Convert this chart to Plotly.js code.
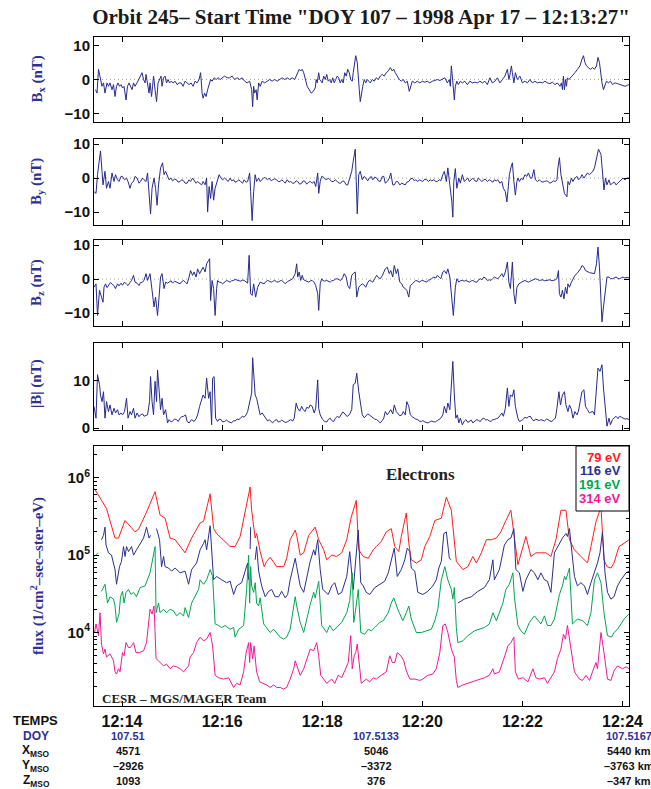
<!DOCTYPE html>
<html><head><meta charset="utf-8">
<script src="https://cdn.plot.ly/plotly-3.0.1.min.js"></script>
<style>html,body{margin:0;padding:0;background:#fff}#chart{width:651px;height:789px}</style>
</head><body><div id="chart"></div>
<script>
// ---------- DATA (time in minutes after 12:00 UT) ----------
const timeTicks=[14,16,18,20,22,24];
const timeLabels=['12:14','12:16','12:18','12:20','12:22','12:24'];

const bx=[[13.47,-3],[13.50,-4],[13.53,3],[13.57,0],[13.60,-2],[13.63,-1],[13.66,-4],[13.70,-1],[13.73,-2],[13.76,-1],[13.80,-3],[13.83,-1.5],[13.86,-5],[13.89,-2],[13.92,-1],[13.95,-2],[13.98,-1.5],[14.01,-2.5],[14.04,-2],[14.08,-6],[14.11,-2],[14.14,-1],[14.17,-2],[14.20,-3],[14.23,-1],[14.26,-2],[14.30,-1],[14.33,0],[14.36,1],[14.40,2],[14.43,0],[14.46,-1],[14.48,1.5],[14.51,-2],[14.54,-4],[14.56,-1],[14.59,-5],[14.61,-2],[14.63,1],[14.66,-3],[14.69,-6.5],[14.72,-1],[14.75,0],[14.78,1],[14.80,-2],[14.83,0.5],[14.86,1],[14.89,-1],[14.92,0],[14.95,-1],[14.98,-0.5],[15.02,-1],[15.06,-0.5],[15.10,-1.5],[15.14,-1],[15.18,-1],[15.22,-2],[15.26,-0.5],[15.30,-1],[15.34,-1.5],[15.38,-1],[15.42,-2],[15.46,-0.5],[15.50,-1],[15.54,0],[15.57,2],[15.60,-4],[15.62,-5.5],[15.65,-4],[15.68,-5],[15.71,-3],[15.74,-1],[15.77,0],[15.80,-0.5],[15.84,0.5],[15.88,0],[15.92,0.5],[15.96,0],[16.00,0.5],[16.05,1],[16.10,0.5],[16.15,0.5],[16.20,1],[16.25,0],[16.30,0.5],[16.35,0],[16.40,0.5],[16.45,-0.5],[16.50,-1],[16.55,-0.5],[16.59,-3],[16.61,-8],[16.63,-2],[16.65,-4],[16.68,-3],[16.70,-6],[16.73,-1],[16.76,-2],[16.80,-0.5],[16.85,-1],[16.90,-0.5],[16.95,0],[17.00,-0.5],[17.05,0],[17.10,-0.5],[17.15,0],[17.20,0.5],[17.25,0],[17.30,0.5],[17.35,0],[17.40,0.5],[17.45,0],[17.48,1],[17.51,2],[17.54,3],[17.57,2.5],[17.60,3],[17.63,2],[17.66,0],[17.70,-2],[17.74,-3],[17.78,-4],[17.82,-3.5],[17.86,-2.5],[17.88,0],[17.90,-1],[17.93,2],[17.95,0],[17.98,-0.5],[18.00,-1],[18.03,1],[18.06,0],[18.09,1.5],[18.12,-0.5],[18.15,0],[18.18,-1],[18.21,0.5],[18.24,-1],[18.27,0],[18.30,1],[18.33,0.5],[18.36,-1],[18.39,0],[18.42,-1],[18.45,2],[18.48,1],[18.51,3],[18.54,2],[18.57,0],[18.60,-0.5],[18.62,2],[18.65,5],[18.67,7],[18.70,5],[18.72,2],[18.74,-3],[18.76,-6.5],[18.78,-4],[18.81,-2],[18.84,0],[18.87,-1],[18.90,0],[18.93,-0.5],[18.96,-1],[19.00,0],[19.04,-0.5],[19.08,0.5],[19.12,0],[19.16,1],[19.20,1.5],[19.24,1],[19.28,2],[19.32,2.5],[19.36,3.5],[19.40,2.5],[19.43,3],[19.46,2],[19.50,1],[19.54,0],[19.58,-0.5],[19.62,0],[19.66,-1],[19.70,-0.5],[19.74,-3.5],[19.77,-1.5],[19.80,-0.5],[19.85,-1],[19.90,-0.5],[19.95,-1],[20.00,-0.5],[20.05,-0.8],[20.10,-0.5],[20.15,-1],[20.20,-0.5],[20.25,-0.3],[20.30,0],[20.35,-0.3],[20.40,0],[20.45,0.5],[20.50,-1],[20.54,0],[20.56,-2],[20.58,4],[20.60,1],[20.62,-3],[20.64,-6],[20.66,-2],[20.69,-0.5],[20.72,-1.5],[20.76,-0.5],[20.80,-1],[20.85,-0.5],[20.90,-1.5],[20.95,-0.5],[21.00,-1],[21.05,-0.8],[21.10,-1],[21.15,-0.5],[21.20,-1],[21.25,-0.5],[21.30,-1.5],[21.35,0.5],[21.40,-1],[21.45,-0.5],[21.50,0.5],[21.55,-1],[21.60,0],[21.65,1],[21.70,3],[21.73,0],[21.76,2],[21.78,4],[21.80,2],[21.83,-1],[21.86,2],[21.90,0],[21.95,1],[22.00,-1],[22.05,-0.5],[22.10,-1],[22.15,0],[22.20,-1],[22.25,-0.5],[22.30,-1],[22.35,-0.8],[22.40,-1],[22.45,-0.5],[22.50,-1],[22.55,-1.2],[22.60,-0.8],[22.65,-1.5],[22.70,-1],[22.75,-2],[22.78,-1],[22.80,-3],[22.82,1],[22.84,-3],[22.86,0],[22.88,-2],[22.90,0.5],[22.93,0],[22.96,0.5],[23.00,1],[23.05,2],[23.10,3],[23.15,4],[23.19,6],[23.22,7],[23.25,5],[23.28,4],[23.32,3.5],[23.36,3],[23.40,3.5],[23.44,3],[23.48,4],[23.51,6.5],[23.54,5],[23.56,2],[23.59,-1],[23.62,-3],[23.65,-2],[23.68,-0.5],[23.72,-1],[23.76,-0.5],[23.80,-1.5],[23.85,-1],[23.90,-1.2],[23.95,-1.5],[24.00,-1.8],[24.05,-2],[24.10,-1.7],[24.13,-1.5]];

const by=[[13.44,-4],[13.48,-4.5],[13.51,1],[13.55,7],[13.57,8],[13.60,2],[13.62,-2],[13.66,2],[13.69,-3],[13.73,-1],[13.76,-3],[13.80,1.5],[13.84,-1],[13.87,1],[13.91,-0.5],[13.94,-1],[13.98,0.5],[14.01,0.5],[14.05,-0.5],[14.09,0],[14.12,-1],[14.16,-3],[14.19,-1.5],[14.23,-1],[14.26,0.5],[14.30,0],[14.34,-1.5],[14.37,-1],[14.41,0],[14.44,-0.5],[14.48,-1],[14.51,1.5],[14.55,-6],[14.57,-10.5],[14.60,-3],[14.64,0],[14.67,-3],[14.70,-8],[14.73,-2],[14.77,3],[14.81,4.5],[14.84,1],[14.87,2],[14.91,0.5],[14.94,-0.5],[14.98,0],[15.01,-0.8],[15.05,-0.3],[15.09,-0.5],[15.12,-1.2],[15.16,-1],[15.19,-0.5],[15.23,-0.8],[15.26,-1.5],[15.30,-1.5],[15.34,-0.5],[15.37,-1],[15.41,0],[15.44,-0.5],[15.48,-1.5],[15.51,-1],[15.55,-1.5],[15.59,-2],[15.62,-1],[15.66,-2],[15.69,0],[15.71,-10],[15.74,-2.5],[15.77,-6],[15.80,-1],[15.83,-6.5],[15.86,-3],[15.89,-1.5],[15.91,-0.5],[15.94,1],[15.98,0],[16.01,-0.5],[16.05,0],[16.09,-0.5],[16.12,-1],[16.16,0],[16.19,-0.8],[16.23,-0.5],[16.26,-1.2],[16.30,-1],[16.33,-0.5],[16.37,-1],[16.41,-1.5],[16.44,-0.5],[16.48,-1.2],[16.51,-1],[16.55,1.5],[16.57,-4],[16.60,-12.5],[16.63,-4],[16.66,1],[16.69,-1],[16.73,0],[16.76,-1],[16.80,-0.5],[16.84,0.2],[16.87,0],[16.91,-0.5],[16.94,0],[16.98,-0.8],[17.01,-0.5],[17.05,-0.2],[17.09,-0.5],[17.12,-1],[17.16,-1],[17.19,-0.5],[17.23,-1],[17.26,-1.5],[17.30,-0.5],[17.34,-1.2],[17.37,-1],[17.41,-1.5],[17.44,-1.5],[17.48,-0.8],[17.51,-1],[17.55,-1.8],[17.59,-1.5],[17.62,-0.8],[17.66,-1],[17.69,-1.8],[17.73,-1.2],[17.76,-1],[17.80,-1.5],[17.84,-1],[17.87,-2.5],[17.91,1.5],[17.93,-4.5],[17.96,-1],[17.99,0.5],[18.01,0.5],[18.05,-0.2],[18.09,-0.5],[18.12,0],[18.16,-0.5],[18.19,-1],[18.23,-1],[18.26,-0.5],[18.30,-1],[18.34,-1.5],[18.37,-1.5],[18.41,-0.8],[18.44,-1],[18.48,-2],[18.51,-2],[18.55,0],[18.59,2],[18.62,5],[18.66,8.5],[18.68,-1],[18.70,-10.5],[18.73,1],[18.76,2],[18.80,-0.5],[18.84,0.5],[18.87,0],[18.91,-0.8],[18.94,0],[18.98,0.5],[19.01,-0.5],[19.05,0.3],[19.09,0],[19.12,-0.8],[19.16,-1],[19.20,0.5],[19.23,0.5],[19.26,-1.5],[19.30,-1],[19.34,0],[19.37,1.5],[19.41,-2],[19.44,-2],[19.48,-1],[19.51,-1],[19.55,-2],[19.59,-1.5],[19.62,-1.8],[19.66,-2],[19.69,-1.2],[19.73,-1],[19.76,-0.3],[19.80,0],[19.84,-0.8],[19.87,-0.5],[19.91,-1],[19.94,-0.5],[19.98,-0.8],[20.01,-1],[20.05,-0.3],[20.09,-0.5],[20.12,-1],[20.16,-0.5],[20.19,-0.8],[20.23,-0.5],[20.27,-1],[20.30,-1],[20.34,-0.5],[20.37,-0.8],[20.41,1],[20.44,2],[20.48,-1],[20.51,3],[20.55,-2],[20.59,-7],[20.61,-11.5],[20.63,-1],[20.66,2.8],[20.69,-3],[20.73,0],[20.76,-1.5],[20.80,1],[20.84,-1],[20.87,-0.5],[20.91,0],[20.94,-1],[20.98,-0.5],[21.01,0],[21.05,-0.8],[21.09,-1],[21.12,0],[21.16,-0.5],[21.19,-1],[21.23,-0.5],[21.26,-0.3],[21.30,-1],[21.34,-0.5],[21.37,-0.8],[21.41,-1.2],[21.44,-0.5],[21.48,-0.8],[21.51,-0.5],[21.55,-1.5],[21.59,-1],[21.62,-3],[21.66,-4],[21.69,-7],[21.71,-4],[21.74,1],[21.77,3],[21.80,4.5],[21.83,-1],[21.86,-5],[21.89,-1],[21.91,0],[21.94,-1],[21.98,0],[22.01,-0.5],[22.05,1],[22.09,0.5],[22.12,1.5],[22.16,0],[22.19,0],[22.23,2.5],[22.26,-0.5],[22.30,-1],[22.34,-0.5],[22.37,-1],[22.41,-1.2],[22.44,-1],[22.48,-0.8],[22.51,-1],[22.55,-1.5],[22.59,-1.2],[22.62,-0.8],[22.66,-1],[22.69,-0.5],[22.71,3],[22.74,6],[22.77,1],[22.81,-3],[22.84,-4.5],[22.89,-5.5],[22.91,-1],[22.94,-2],[22.98,0],[23.01,-1],[23.05,0],[23.09,0.5],[23.12,-0.5],[23.16,0],[23.19,1],[23.23,0],[23.26,0.8],[23.30,1.5],[23.34,1],[23.37,1.5],[23.41,2],[23.44,3],[23.48,6],[23.50,7.5],[23.52,8.5],[23.57,7],[23.59,3],[23.63,-3.5],[23.66,0],[23.69,-2],[23.73,-0.5],[23.76,-2],[23.80,-1.5],[23.84,-1.2],[23.87,-2],[23.91,-1.5],[23.94,-1],[23.98,-0.5],[24.01,0],[24.05,-0.5],[24.09,0],[24.13,0]];

const bz=[[13.44,-2.4],[13.48,-1.4],[13.51,-10.7],[13.55,-3.3],[13.59,-5.3],[13.62,-6.8],[13.64,-2.4],[13.67,-1.4],[13.70,-2.5],[13.73,-1.9],[13.77,-1],[13.80,-1.4],[13.84,-2],[13.87,-2.8],[13.91,-1.4],[13.94,-2],[13.98,-1.2],[14.01,-1.8],[14.05,-0.9],[14.09,-1.5],[14.12,-1.9],[14.16,-1],[14.19,-0.4],[14.23,1.1],[14.26,-0.9],[14.30,-1.2],[14.34,-1.9],[14.37,-1],[14.41,-0.9],[14.44,-0.3],[14.48,1.6],[14.51,-0.4],[14.54,0.5],[14.56,1.6],[14.60,-3.3],[14.64,-8.2],[14.67,-5.3],[14.71,-10.7],[14.74,-5.3],[14.77,0.6],[14.80,1.6],[14.84,-2.8],[14.87,-0.9],[14.91,-1.2],[14.94,-0.9],[14.98,-0.5],[15.01,-1.2],[15.05,-0.6],[15.09,-0.9],[15.12,-1.2],[15.16,-1.4],[15.19,-0.8],[15.23,-0.4],[15.27,-1],[15.30,-1.4],[15.34,0.6],[15.37,2.5],[15.41,1.1],[15.44,2.1],[15.48,0.6],[15.51,3],[15.55,1.6],[15.59,2.5],[15.62,3.5],[15.66,2.1],[15.69,4.5],[15.73,5.5],[15.75,6],[15.77,-6.3],[15.80,-0.4],[15.83,-2.8],[15.86,-10.7],[15.89,-2.8],[15.91,-0.4],[15.94,-0.9],[15.98,-1],[16.01,-1.4],[16.05,-0.8],[16.09,-0.4],[16.12,-0.6],[16.16,-0.9],[16.19,-0.5],[16.23,-0.4],[16.26,-0.1],[16.30,-0.2],[16.34,-0.5],[16.37,-0.6],[16.41,-0.3],[16.44,-0.4],[16.48,-0.8],[16.51,-1.2],[16.54,7],[16.57,-4.3],[16.60,-4.8],[16.63,-1.4],[16.67,-5.3],[16.71,-2.4],[16.76,-0.9],[16.80,-1.2],[16.84,-1.4],[16.87,-0.8],[16.91,-0.4],[16.94,-0.6],[16.98,-0.9],[17.01,-0.7],[17.05,-0.4],[17.09,-0.8],[17.12,-0.9],[17.16,-0.5],[17.19,-0.4],[17.23,-0.9],[17.26,-1.4],[17.30,-0.8],[17.34,-0.4],[17.37,-0.1],[17.41,0.1],[17.46,1.6],[17.49,4.5],[17.51,0.6],[17.54,2.1],[17.57,-0.4],[17.60,1.1],[17.63,-0.2],[17.66,-0.4],[17.70,-0.6],[17.73,-0.9],[17.77,-0.5],[17.80,-0.4],[17.84,-1],[17.87,-1.9],[17.91,-4.3],[17.93,-9.2],[17.96,-1.4],[17.99,0.1],[18.01,-0.4],[18.05,-0.6],[18.09,-0.4],[18.12,-0.7],[18.16,-0.9],[18.19,-0.5],[18.23,-0.4],[18.26,0],[18.30,0.1],[18.34,-0.2],[18.37,-0.4],[18.41,0.5],[18.44,1.6],[18.48,0.6],[18.51,-1.9],[18.55,-2.8],[18.59,1.1],[18.62,1.6],[18.66,2.1],[18.69,-5.3],[18.73,-2.4],[18.76,-1.9],[18.80,-1.4],[18.84,-1.8],[18.87,-2.4],[18.91,-1],[18.94,-0.4],[18.98,-0.6],[19.01,-0.9],[19.05,0.2],[19.09,1.1],[19.12,0.5],[19.16,0.1],[19.20,1],[19.23,2.1],[19.26,3],[19.30,3.5],[19.34,1.6],[19.37,2.5],[19.41,0.6],[19.44,4],[19.48,1.6],[19.51,3],[19.55,-0.9],[19.59,-1.4],[19.62,-2.4],[19.66,-2.8],[19.69,-3.3],[19.73,-5.3],[19.76,-1.9],[19.80,-1.4],[19.84,-0.8],[19.87,-0.4],[19.91,-0.6],[19.94,-0.9],[19.98,-0.5],[20.01,-0.4],[20.05,-0.7],[20.09,-0.9],[20.12,-0.3],[20.16,-0.2],[20.19,0.2],[20.23,0.6],[20.27,0.3],[20.30,1.1],[20.34,0.5],[20.37,0.1],[20.41,2.1],[20.44,2.5],[20.48,1.6],[20.51,3],[20.55,0.6],[20.59,-5.3],[20.62,-10.7],[20.66,-2.4],[20.69,0.1],[20.73,-0.9],[20.76,-0.5],[20.80,-0.4],[20.84,-0.6],[20.87,-0.4],[20.91,-0.7],[20.94,-0.9],[20.98,-0.5],[21.01,-0.4],[21.05,-0.8],[21.09,-0.9],[21.12,-0.3],[21.16,0.1],[21.19,-0.2],[21.23,0.6],[21.27,0.2],[21.30,-0.4],[21.34,-0.2],[21.37,-0.4],[21.41,0.2],[21.44,0.6],[21.48,0.3],[21.51,0.1],[21.55,0.8],[21.59,1.6],[21.62,0.6],[21.66,2.1],[21.70,5],[21.73,-0.9],[21.76,-2.8],[21.80,5],[21.83,-4.3],[21.86,-7.3],[21.89,-2.4],[21.93,-1.4],[21.98,-0.9],[22.01,-0.6],[22.05,-0.4],[22.09,-0.7],[22.12,-0.9],[22.16,-0.6],[22.19,-0.4],[22.23,-0.2],[22.26,0.1],[22.30,-0.1],[22.34,-0.4],[22.37,-0.3],[22.41,-0.2],[22.44,-0.5],[22.48,-0.4],[22.51,-0.3],[22.55,-0.2],[22.59,-0.5],[22.62,-0.4],[22.66,-0.2],[22.69,0.1],[22.72,2.5],[22.74,-4.3],[22.77,-5.3],[22.80,-3.3],[22.83,-5.8],[22.86,-2.4],[22.89,-4.3],[22.91,-1.4],[22.94,-2.4],[22.98,-0.9],[23.01,0.1],[23.05,1.1],[23.09,1.6],[23.12,2.1],[23.16,3],[23.19,4],[23.23,3.5],[23.26,2.5],[23.30,2.1],[23.34,1.9],[23.37,1.8],[23.41,1.7],[23.44,1.6],[23.48,4.5],[23.51,9.4],[23.54,3.5],[23.56,-3.3],[23.59,-12.6],[23.62,-8.2],[23.66,-2.8],[23.69,0.6],[23.73,0.6],[23.76,0.2],[23.80,0.1],[23.84,0.5],[23.87,0.6],[23.91,0.2],[23.94,0.1],[23.98,0.4],[24.01,0.6],[24.05,0.3],[24.09,0.5],[24.13,0.3]];

const bt=[[13.44,4.6],[13.48,2.1],[13.51,11.3],[13.55,9.2],[13.57,7.0],[13.60,5.6],[13.63,7.7],[13.66,2.1],[13.69,5.6],[13.73,3.5],[13.76,4.9],[13.80,2.8],[13.84,4.2],[13.87,3.2],[13.91,3.9],[13.94,2.8],[13.98,3.2],[14.01,2.8],[14.05,3.5],[14.09,6.3],[14.12,2.1],[14.16,3.5],[14.19,2.8],[14.23,4.2],[14.26,2.1],[14.30,3.2],[14.34,2.4],[14.37,2.8],[14.41,3.0],[14.44,2.5],[14.48,2.7],[14.51,2.8],[14.55,5.6],[14.57,10.9],[14.60,5.6],[14.63,2.8],[14.66,9.9],[14.69,5.6],[14.71,12.3],[14.74,7.0],[14.77,3.9],[14.80,6.3],[14.83,2.8],[14.87,3.9],[14.91,1.1],[14.94,1.8],[14.98,1.3],[15.01,1.5],[15.05,1.9],[15.09,1.8],[15.12,1.4],[15.16,2.1],[15.19,2.4],[15.23,2.5],[15.27,2.8],[15.30,1.4],[15.34,1.1],[15.39,1.8],[15.44,1.4],[15.48,2.0],[15.51,2.8],[15.55,4.6],[15.59,6.0],[15.62,7.0],[15.66,6.3],[15.69,10.6],[15.73,6.3],[15.76,7.7],[15.79,0.7],[15.81,10.6],[15.84,10.9],[15.87,2.1],[15.91,1.4],[15.94,1.9],[15.98,1.8],[16.01,1.3],[16.05,1.4],[16.09,1.7],[16.12,1.4],[16.16,1.2],[16.19,1.1],[16.23,1.6],[16.26,1.5],[16.30,1.9],[16.34,1.8],[16.37,2.2],[16.41,2.5],[16.44,2.3],[16.48,2.8],[16.51,3.5],[16.55,5.6],[16.59,7.4],[16.61,14.9],[16.63,10.6],[16.66,7.0],[16.69,6.3],[16.73,4.6],[16.76,2.8],[16.80,3.2],[16.84,2.5],[16.87,2.1],[16.91,1.5],[16.94,1.8],[16.98,1.3],[17.01,1.1],[17.05,1.6],[17.09,1.8],[17.12,1.3],[17.16,1.4],[17.19,1.7],[17.23,1.5],[17.26,1.2],[17.30,1.3],[17.34,1.6],[17.37,1.8],[17.41,1.5],[17.44,2.1],[17.48,5.3],[17.51,4.2],[17.55,3.6],[17.59,4.6],[17.62,3.9],[17.66,3.5],[17.69,4.4],[17.73,4.2],[17.76,4.9],[17.80,4.6],[17.84,3.2],[17.87,4.2],[17.91,10.2],[17.93,4.2],[17.96,2.8],[17.99,2.2],[18.01,1.8],[18.05,1.4],[18.09,1.3],[18.12,1.8],[18.16,2.1],[18.19,1.6],[18.23,1.4],[18.26,2.0],[18.30,2.5],[18.34,2.2],[18.37,2.8],[18.41,3.4],[18.44,3.2],[18.48,2.6],[18.51,2.5],[18.55,3.0],[18.59,3.9],[18.62,9.2],[18.66,9.5],[18.69,11.6],[18.73,7.7],[18.76,5.6],[18.80,2.8],[18.84,2.2],[18.87,2.5],[18.91,3.0],[18.94,2.8],[18.98,2.4],[19.01,2.1],[19.05,1.9],[19.09,1.8],[19.12,1.4],[19.16,1.1],[19.20,1.6],[19.23,2.1],[19.26,3.5],[19.30,2.8],[19.34,3.4],[19.37,3.9],[19.41,3.0],[19.44,4.9],[19.48,3.5],[19.51,3.2],[19.55,2.6],[19.59,2.8],[19.62,3.5],[19.66,2.8],[19.69,5.6],[19.73,4.6],[19.76,2.8],[19.80,2.4],[19.84,2.1],[19.87,1.9],[19.91,1.8],[19.94,1.5],[19.98,1.4],[20.01,1.6],[20.05,1.3],[20.09,1.2],[20.12,1.1],[20.16,1.4],[20.19,1.5],[20.23,1.3],[20.26,1.3],[20.30,1.6],[20.34,1.8],[20.37,2.1],[20.41,2.8],[20.44,4.6],[20.48,3.2],[20.51,5.3],[20.55,3.9],[20.59,11.6],[20.61,14.1],[20.64,7.0],[20.67,2.1],[20.70,2.8],[20.73,1.1],[20.76,2.1],[20.80,0.7],[20.84,1.5],[20.87,1.8],[20.91,1.2],[20.94,1.4],[20.98,1.7],[21.01,1.1],[21.05,1.5],[21.09,1.8],[21.12,1.6],[21.16,1.4],[21.19,1.9],[21.23,2.1],[21.27,1.7],[21.30,1.8],[21.34,1.5],[21.37,1.4],[21.41,1.8],[21.44,1.8],[21.48,2.0],[21.51,2.1],[21.55,2.6],[21.59,3.2],[21.62,2.5],[21.66,4.2],[21.70,8.5],[21.73,4.6],[21.76,7.0],[21.80,6.7],[21.83,8.1],[21.86,4.6],[21.91,2.1],[21.94,1.4],[21.98,1.6],[22.01,1.8],[22.05,2.3],[22.09,2.1],[22.12,2.4],[22.16,2.5],[22.19,1.9],[22.23,1.5],[22.26,1.9],[22.30,1.8],[22.34,1.6],[22.37,1.8],[22.41,1.7],[22.44,1.5],[22.48,1.9],[22.51,1.8],[22.55,1.5],[22.59,1.4],[22.62,1.8],[22.66,2.1],[22.69,4.2],[22.73,7.7],[22.76,4.9],[22.80,7.0],[22.84,7.7],[22.87,4.9],[22.91,3.5],[22.94,4.9],[22.98,3.9],[23.01,2.1],[23.05,3.5],[23.09,2.8],[23.12,3.6],[23.16,5.6],[23.19,7.7],[23.23,8.1],[23.26,4.6],[23.30,3.9],[23.34,3.2],[23.37,3.4],[23.41,3.5],[23.44,2.8],[23.48,9.2],[23.51,12.7],[23.55,12.0],[23.59,13.4],[23.62,8.5],[23.66,2.8],[23.69,0.4],[23.73,2.1],[23.76,0.7],[23.80,1.8],[23.84,2.2],[23.87,2.5],[23.91,2.0],[23.94,2.5],[23.98,2.3],[24.01,2.1],[24.05,1.9],[24.09,2.0],[24.13,1.8]];

const flux79=[[13.45,7.2e5],[13.56,5.4e5],[13.69,4.0e5],[13.86,1.66e5],[13.93,1.66e5],[14.06,2.8e5],[14.16,2.4e5],[14.26,2.0e5],[14.33,2.15e5],[14.49,3.6e5],[14.66,6.6e5],[14.76,3.3e5],[14.86,3.0e5],[14.96,1.66e5],[15.06,1.58e5],[15.26,1.07e5],[15.39,1.66e5],[15.56,2.6e5],[15.63,2.75e5],[15.69,4.0e5],[15.76,6.2e5],[15.83,2.2e5],[15.89,1.9e5],[16.16,1.29e5],[16.26,1.29e5],[16.36,1.74e5],[16.46,3.5e5],[16.56,7.6e5],[16.59,3.8e5],[16.66,1.66e5],[16.69,1.9e5],[16.76,1.11e5],[16.84,7.1e4],[16.89,8.3e4],[16.96,9.4e4],[17.03,7.9e4],[17.09,7.1e4],[17.23,7.1e4],[17.29,9.1e4],[17.36,1.58e5],[17.46,2.1e5],[17.49,1.8e5],[17.56,1.0e5],[17.63,1.07e5],[17.73,1.8e5],[17.86,2.3e5],[17.93,1.58e5],[18.03,1.17e5],[18.09,8.7e4],[18.19,1.0e5],[18.29,9.6e4],[18.39,1.07e5],[18.49,1.58e5],[18.58,3.1e5],[18.68,5.1e5],[18.73,1.17e5],[18.82,9.6e4],[18.92,9.1e4],[19.02,1.17e5],[19.08,1.29e5],[19.18,1.5e5],[19.28,2.0e5],[19.38,2.2e5],[19.45,1.29e5],[19.53,1.11e5],[19.58,1.74e5],[19.68,3.5e5],[19.73,1.42e5],[19.78,8.7e4],[19.88,7.9e4],[19.98,8.7e4],[20.05,1.29e5],[20.15,1.74e5],[20.25,2.8e5],[20.38,3.0e5],[20.48,5.6e5],[20.58,3.8e5],[20.68,8.3e4],[20.81,6.5e4],[20.91,7.1e4],[21.01,9.6e4],[21.08,7.9e4],[21.18,1.07e5],[21.28,1.58e5],[21.38,1.58e5],[21.48,1.66e5],[21.57,2.0e5],[21.67,2.8e5],[21.77,3.8e5],[21.91,7.5e4],[22.07,1.74e5],[22.17,9.6e4],[22.27,1.07e5],[22.37,1.07e5],[22.47,1.07e5],[22.57,9.6e4],[22.67,1.58e5],[22.77,3.8e5],[22.87,3.8e5],[22.94,1.58e5],[23.04,1.17e5],[23.17,9.6e4],[23.30,7.9e4],[23.37,1.29e5],[23.47,2.7e5],[23.57,4.2e5],[23.63,8.7e4],[23.69,7.1e4],[23.77,6.8e4],[23.83,7.9e4],[23.93,1.29e5],[24.03,1.42e5],[24.13,1.58e5]];

const flux116=[[13.59,1.58e5],[13.63,1.8e5],[13.66,2.3e5],[13.68,1.35e5],[13.73,1.07e5],[13.79,1.0e5],[13.86,6.5e4],[13.89,4.2e4],[13.95,7.1e4],[13.99,8.3e4],[14.03,1.29e5],[14.06,9.6e4],[14.09,1.29e5],[14.13,1.11e5],[14.19,1.29e5],[14.23,1.0e5],[14.29,1.17e5],[14.36,1.42e5],[14.43,1.66e5],[14.49,2.3e5],[14.54,1.66e5],[14.57,1.8e5],[14.62,null],[14.69,2.2e5],[14.75,1.58e5],[14.79,7.1e4],[14.83,9.6e4],[14.86,7.1e4],[14.93,6.8e4],[14.99,6.2e4],[15.06,6.8e4],[15.16,5.9e4],[15.26,6.2e4],[15.33,4.2e4],[15.39,6.5e4],[15.49,7.9e4],[15.56,1.17e5],[15.63,1.42e5],[15.66,1.58e5],[15.69,1.17e5],[15.76,2.4e5],[15.83,4.8e4],[15.89,5.3e4],[15.99,4.8e4],[16.09,4.4e4],[16.16,4.6e4],[16.23,3.1e4],[16.29,4.0e4],[16.39,4.4e4],[16.46,6.2e4],[16.51,7.9e4],[16.53,4.8e4],[16.545,null],[16.56,1.2e5],[16.57,2.3e5],[16.60,null],[16.66,8.7e4],[16.69,1.29e5],[16.73,6.2e4],[16.79,4.0e4],[16.86,2.9e4],[16.93,3.4e4],[16.99,3.6e4],[17.06,2.9e4],[17.13,2.9e4],[17.19,3.4e4],[17.26,2.8e4],[17.31,3.1e4],[17.36,4.8e4],[17.43,7.1e4],[17.46,9.1e4],[17.49,7.1e4],[17.56,4.0e4],[17.63,3.3e4],[17.69,5.3e4],[17.76,8.3e4],[17.83,1.17e5],[17.86,1.0e5],[17.91,1.58e5],[17.96,6.5e4],[18.01,3.6e4],[18.06,3.4e4],[18.12,3.1e4],[18.19,4.0e4],[18.25,4.4e4],[18.32,3.1e4],[18.39,3.3e4],[18.49,5.3e4],[18.55,1.11e5],[18.62,3.6e4],[18.65,6.2e4],[18.72,2.1e5],[18.77,4.4e4],[18.82,4.0e4],[18.88,3.3e4],[18.95,3.1e4],[19.05,3.8e4],[19.15,4.2e4],[19.25,4.6e4],[19.32,5.9e4],[19.38,8.7e4],[19.44,1.23e5],[19.50,5.3e4],[19.58,6.5e4],[19.65,8.7e4],[19.70,1.23e5],[19.75,1.11e5],[19.78,6.8e4],[19.85,6.2e4],[19.91,3.3e4],[20.01,3.1e4],[20.11,3.4e4],[20.21,4.0e4],[20.28,4.8e4],[20.33,6.8e4],[20.38,8.3e4],[20.43,1.9e5],[20.48,2.0e5],[20.54,9.1e4],[20.58,8.7e4],[20.65,null],[20.71,2.4e4],[20.84,2.7e4],[20.98,2.9e4],[21.11,3.4e4],[21.24,3.8e4],[21.34,4.8e4],[21.41,8.7e4],[21.44,4.8e4],[21.54,6.5e4],[21.64,1.35e5],[21.71,1.58e5],[21.77,1.66e5],[21.83,2.2e5],[21.87,6.5e4],[21.94,5.9e4],[22.01,3.4e4],[22.07,4.8e4],[22.17,6.5e4],[22.24,5.9e4],[22.31,4.8e4],[22.37,5.9e4],[22.44,4.8e4],[22.50,4.6e4],[22.57,3.3e4],[22.64,1.07e5],[22.74,1.42e5],[22.80,1.66e5],[22.87,1.9e5],[22.90,1.74e5],[22.94,2.2e5],[22.97,1.42e5],[23.04,5.3e4],[23.10,4.0e4],[23.17,4.4e4],[23.24,4.0e4],[23.30,3.1e4],[23.37,4.4e4],[23.44,5.9e4],[23.50,7.9e4],[23.55,1.07e5],[23.60,2.0e5],[23.65,5.9e4],[23.70,3.3e4],[23.77,2.7e4],[23.83,2.9e4],[23.90,4.0e4],[23.97,4.8e4],[24.07,5.9e4],[24.13,6.2e4]];

const flux191=[[13.45,9.6e4],[13.52,1.07e5],[13.56,null],[13.59,3.4e4],[13.66,4.2e4],[13.71,2.4e4],[13.76,2.9e4],[13.83,2.7e4],[13.86,2.2e4],[13.89,1.35e4],[13.94,1.73e4],[13.97,2.9e4],[14.01,3.4e4],[14.04,2.4e4],[14.08,3.3e4],[14.13,3.6e4],[14.18,3.1e4],[14.23,3.3e4],[14.29,2.9e4],[14.36,3.8e4],[14.46,4.0e4],[14.56,5.9e4],[14.63,1.0e5],[14.66,1.29e5],[14.68,1.8e4],[14.73,2.4e4],[14.76,1.8e4],[14.83,2.0e4],[14.89,1.8e4],[14.96,2.0e4],[15.03,1.9e4],[15.09,1.64e4],[15.16,1.8e4],[15.23,1.64e4],[15.26,2.1e4],[15.33,1.56e4],[15.39,2.4e4],[15.46,2.9e4],[15.53,3.6e4],[15.56,4.8e4],[15.63,4.2e4],[15.69,4.8e4],[15.76,6.5e4],[15.81,5.3e4],[15.86,1.29e4],[15.93,1.23e4],[15.99,1.16e4],[16.06,1.23e4],[16.16,1.10e4],[16.23,1.16e4],[16.26,8.7e3],[16.33,1.10e4],[16.43,1.23e4],[16.49,3.6e4],[16.53,1.0e5],[16.55,2.4e4],[16.57,7.1e4],[16.59,4.0e4],[16.63,3.3e4],[16.66,4.4e4],[16.69,2.4e4],[16.73,2.2e4],[16.76,2.8e4],[16.83,1.29e4],[16.89,1.16e4],[16.96,1.0e4],[17.03,1.10e4],[17.09,1.0e4],[17.16,8.7e3],[17.23,8.2e3],[17.29,8.7e3],[17.36,1.10e4],[17.43,2.2e4],[17.46,2.9e4],[17.49,2.2e4],[17.56,1.35e4],[17.63,1.0e4],[17.69,1.49e4],[17.76,2.3e4],[17.83,3.3e4],[17.86,2.8e4],[17.93,4.6e4],[17.96,2.2e4],[17.99,1.23e4],[18.09,1.0e4],[18.15,1.23e4],[18.22,1.05e4],[18.29,1.16e4],[18.39,1.35e4],[18.49,1.8e4],[18.55,2.6e4],[18.60,5.9e4],[18.63,1.35e4],[18.66,1.8e4],[18.70,3.3e4],[18.72,3.6e4],[18.77,1.0e4],[18.85,9.5e3],[18.92,1.10e4],[18.98,1.05e4],[19.05,1.16e4],[19.15,1.35e4],[19.22,1.42e4],[19.32,1.8e4],[19.38,2.4e4],[19.43,2.8e4],[19.51,2.0e4],[19.61,1.42e4],[19.68,1.8e4],[19.73,2.2e4],[19.78,1.49e4],[19.88,1.0e4],[19.98,1.0e4],[20.08,1.05e4],[20.18,1.10e4],[20.25,1.42e4],[20.31,2.0e4],[20.38,4.8e4],[20.45,7.1e4],[20.51,4.8e4],[20.58,3.6e4],[20.61,2.7e4],[20.64,3.8e4],[20.68,1.16e4],[20.71,7.4e3],[20.81,7.8e3],[20.91,9.1e3],[21.04,1.05e4],[21.14,1.10e4],[21.24,1.16e4],[21.34,1.29e4],[21.41,1.8e4],[21.48,1.42e4],[21.54,1.8e4],[21.61,2.4e4],[21.67,3.6e4],[21.74,4.2e4],[21.81,5.9e4],[21.84,2.9e4],[21.91,1.23e4],[21.97,1.05e4],[22.04,9.5e3],[22.14,1.35e4],[22.24,1.64e4],[22.31,1.42e4],[22.37,1.29e4],[22.44,1.64e4],[22.50,1.23e4],[22.57,1.23e4],[22.64,1.49e4],[22.74,3.1e4],[22.80,4.0e4],[22.84,5.3e4],[22.87,4.8e4],[22.94,6.8e4],[23.00,1.29e4],[23.10,1.49e4],[23.20,1.42e4],[23.30,1.23e4],[23.37,1.8e4],[23.44,4.8e4],[23.50,5.9e4],[23.57,4.4e4],[23.63,1.8e4],[23.70,9.1e3],[23.78,8.7e3],[23.83,1.0e4],[23.90,1.10e4],[23.97,1.29e4],[24.03,1.49e4],[24.13,1.73e4]];

const flux314=[[13.45,1.0e4],[13.48,1.29e4],[13.53,9.1e3],[13.56,1.8e4],[13.59,7.1e3],[13.63,5.3e3],[13.66,6.1e3],[13.69,4.8e3],[13.76,5.3e3],[13.83,4.3e3],[13.86,3.1e3],[13.89,2.9e3],[13.93,3.4e3],[13.96,3.1e3],[14.01,5.5e3],[14.04,5.0e3],[14.08,7.4e3],[14.13,6.4e3],[14.17,6.4e3],[14.23,7.4e3],[14.28,5.5e3],[14.35,5.5e3],[14.43,5.8e3],[14.49,7.4e3],[14.56,2.0e4],[14.60,1.73e4],[14.64,2.2e4],[14.68,4.6e3],[14.73,4.3e3],[14.83,3.7e3],[14.89,3.9e3],[14.96,3.4e3],[15.03,3.7e3],[15.09,3.6e3],[15.16,3.4e3],[15.23,3.1e3],[15.28,3.4e3],[15.33,3.7e3],[15.36,4.8e3],[15.43,5.5e3],[15.49,7.4e3],[15.56,8.7e3],[15.63,7.8e3],[15.69,8.2e3],[15.76,1.0e4],[15.81,6.7e3],[15.86,2.8e3],[15.93,2.6e3],[16.03,2.5e3],[16.13,2.6e3],[16.23,1.95e3],[16.29,2.2e3],[16.36,2.1e3],[16.43,3.1e3],[16.48,5.5e3],[16.53,7.4e3],[16.55,4.1e3],[16.57,7.4e3],[16.61,4.6e3],[16.64,6.7e3],[16.67,4.1e3],[16.69,3.1e3],[16.75,2.3e3],[16.83,2.2e3],[16.89,2.1e3],[16.96,1.95e3],[17.03,2.1e3],[17.09,1.95e3],[17.16,1.95e3],[17.23,1.86e3],[17.29,1.95e3],[17.36,2.5e3],[17.43,3.4e3],[17.46,4.3e3],[17.49,3.7e3],[17.56,2.8e3],[17.63,3.4e3],[17.69,4.6e3],[17.76,6.1e3],[17.83,5.8e3],[17.89,7.4e3],[17.93,5.0e3],[17.97,2.8e3],[18.03,2.5e3],[18.09,2.2e3],[18.19,2.5e3],[18.25,2.2e3],[18.32,2.8e3],[18.39,2.6e3],[18.45,3.2e3],[18.52,4.1e3],[18.57,9.1e3],[18.60,3.4e3],[18.64,5.0e3],[18.67,5.5e3],[18.70,7.1e3],[18.74,3.7e3],[18.78,2.2e3],[18.88,2.5e3],[18.95,2.3e3],[19.02,2.6e3],[19.08,2.5e3],[19.18,2.8e3],[19.28,3.1e3],[19.35,5.0e3],[19.40,4.1e3],[19.45,4.1e3],[19.50,5.5e3],[19.57,5.0e3],[19.63,4.3e3],[19.68,3.2e3],[19.75,2.5e3],[19.85,2.5e3],[19.95,2.4e3],[20.01,2.5e3],[20.11,2.8e3],[20.21,2.9e3],[20.28,3.4e3],[20.35,5.5e3],[20.41,1.23e4],[20.46,1.29e4],[20.51,1.0e4],[20.58,6.1e3],[20.64,4.8e3],[20.68,2.4e3],[20.71,1.95e3],[20.81,2.1e3],[20.91,2.2e3],[21.01,2.3e3],[21.11,2.4e3],[21.24,2.6e3],[21.34,2.8e3],[21.41,3.4e3],[21.44,2.9e3],[21.54,3.1e3],[21.64,4.8e3],[21.71,6.7e3],[21.77,7.4e3],[21.83,8.7e3],[21.86,3.1e3],[21.92,2.5e3],[22.01,2.6e3],[22.11,2.3e3],[22.21,3.4e3],[22.27,2.6e3],[22.34,2.5e3],[22.44,2.6e3],[22.50,2.2e3],[22.57,2.6e3],[22.64,3.1e3],[22.70,4.6e3],[22.77,6.1e3],[22.82,9.5e3],[22.86,8.2e3],[22.90,1.23e4],[22.96,6.7e3],[23.04,3.1e3],[23.14,2.5e3],[23.20,2.4e3],[23.27,2.8e3],[23.34,2.4e3],[23.40,3.1e3],[23.47,4.1e3],[23.50,3.4e3],[23.57,1.0e4],[23.63,5.5e3],[23.70,2.5e3],[23.77,2.4e3],[23.83,3.2e3],[23.90,3.7e3],[24.00,3.4e3],[24.07,3.6e3],[24.13,3.4e3]];

const energyNames=['79 eV','116 eV','191 eV','314 eV'];
const fluxSeries=[flux79,flux116,flux191,flux314];
const fluxTicks=[1e4,1e5,1e6];
const fluxTickText=['10<sup>4</sup>','10<sup>5</sup>','10<sup>6</sup>'];
const bPanels=[
  {data:bx, label:'B<sub>x</sub> (nT)', ticks:[-10,0,10]},
  {data:by, label:'B<sub>y</sub> (nT)', ticks:[-10,0,10]},
  {data:bz, label:'B<sub>z</sub> (nT)', ticks:[-10,0,10]},
  {data:bt, label:'|B| (nT)', ticks:[0,10]}
];
const docTitle='Orbit 245– Start Time "DOY 107 – 1998 Apr 17 – 12:13:27"';
const tableRows=['TEMPS','DOY','X<sub>MSO</sub>','Y<sub>MSO</sub>','Z<sub>MSO</sub>'];
const doyVals=['107.51','107.5133','107.5167'];
const xMso=['4571','5046','5440 km'];
const yMso=['–2926','–3372','–3763 km'];
const zMso=['1093','376','–347 km'];
const tableTimes=[14.12,19.08,24.12];

// ---------- STYLE / LAYOUT ----------
const W=651,H=789;
const NAVY='#262a8e', LABEL='#2e3192';
const energyColors=['#ff1c1c','#2b2f90','#00a651','#f0189a'];
const dom=(t,b)=>[1-b/H,1-t/H];
const domX=[94/W,629/W];
const panelPix=[[37,122],[139,225],[240,326],[343,430],[446,706]];
const yRanges=[[-12.5,12.5],[-13.8,11.5],[-13.8,11.5],[-0.4,18],[3.05,6.41]];
const XR=[13.44,24.13];
const sans='Liberation Sans, Arial, sans-serif';
const serif='Liberation Serif, Times New Roman, serif';

const traces=[];
bPanels.forEach((p,i)=>{
  traces.push({x:p.data.map(d=>d[0]),y:p.data.map(d=>d[1]),type:'scatter',mode:'lines',
    xaxis:'x'+(i+1),yaxis:'y'+(i+1),line:{color:NAVY,width:1},showlegend:false,hoverinfo:'skip'});
});
fluxSeries.forEach((s,k)=>{
  traces.push({x:s.map(d=>d[0]),y:s.map(d=>d[1]),type:'scatter',mode:'lines',name:energyNames[k],
    xaxis:'x5',yaxis:'y5',line:{color:energyColors[k],width:1},connectgaps:false,showlegend:false,hoverinfo:'skip'});
});

const layout={width:W,height:H,margin:{l:0,r:0,t:0,b:0},paper_bgcolor:'#fff',plot_bgcolor:'#fff',
  showlegend:false,
  title:{text:docTitle,x:361/W,xanchor:'center',xref:'container',y:1-17/H,yanchor:'middle',yref:'container',
    font:{family:serif,size:21,weight:'bold',color:'#1a1a1a'}},
  shapes:[],annotations:[]};

for(let i=0;i<5;i++){
  const n=i+1;
  layout['xaxis'+(i===0?'':n)]={domain:domX,range:XR,anchor:'y'+n,tickmode:'array',tickvals:timeTicks,ticktext:timeLabels,
    ticks:'inside',ticklen:5,tickwidth:1,tickcolor:'#000',showline:true,linecolor:'#000',linewidth:1,mirror:'ticks',
    showgrid:false,zeroline:false,showticklabels:i===4,ticklabelstandoff:1,
    tickfont:{family:sans,size:16,weight:'bold',color:'#111'},fixedrange:true};
  const ya={domain:dom(panelPix[i][0],panelPix[i][1]),range:yRanges[i],anchor:'x'+n,
    ticks:'inside',ticklen:5,tickwidth:1,tickcolor:'#000',showline:true,linecolor:'#000',linewidth:1,mirror:'ticks',
    showgrid:false,zeroline:false,tickfont:{family:sans,size:15,weight:'bold',color:'#111'},fixedrange:true};
  if(i<4){ya.tickmode='array';ya.tickvals=bPanels[i].ticks;}
  else{
    ya.type='log';ya.tickmode='array';ya.tickvals=fluxTicks;ya.ticktext=fluxTickText;
    const mv=[];[1e3,1e4,1e5,1e6].forEach(dec=>[2,3,4,5,6,7,8,9].forEach(m=>mv.push(dec*m)));
    ya.minor={tickmode:'array',tickvals:mv,ticks:'inside',ticklen:3,tickcolor:'#000',showgrid:false};
  }
  layout['yaxis'+(i===0?'':n)]=ya;
  if(i<3){
    layout.shapes.push({type:'line',xref:'x'+n+' domain',x0:0,x1:1,yref:'y'+n,y0:0,y1:0,
      line:{color:'#a8a8a8',width:1,dash:'1px,3px'},layer:'below'});
  }
  const mid=(panelPix[i][0]+panelPix[i][1])/2;
  layout.annotations.push({text:i<4?bPanels[i].label:'flux (1/cm<sup>2</sup>–sec–ster–eV)',
    xref:'paper',yref:'paper',x:37/W,y:1-(i===3?384:mid)/H,xanchor:'center',yanchor:'middle',textangle:-90,showarrow:false,
    font:{family:serif,size:15,weight:'bold',color:LABEL}});
}

// Legend box (text only, coloured)
layout.shapes.push({type:'rect',xref:'paper',yref:'paper',x0:576/W,x1:629/W,y0:1-511/H,y1:1-446/H,
  line:{color:'#000',width:1},fillcolor:'#fff',layer:'above'});
energyNames.forEach((nm,k)=>{
  layout.annotations.push({text:nm,xref:'paper',yref:'paper',x:622/W,y:1-(457+13.7*k)/H,xanchor:'right',yanchor:'middle',
    showarrow:false,borderpad:0,font:{family:sans,size:13,weight:'bold',color:energyColors[k]}});
});
layout.annotations.push({text:'Electrons',xref:'paper',yref:'paper',x:420/W,y:1-474/H,xanchor:'center',yanchor:'middle',
  showarrow:false,font:{family:serif,size:17,weight:'bold',color:'#222'}});
layout.annotations.push({text:'CESR – MGS/MAGER Team',xref:'paper',yref:'paper',x:100/W,y:1-698/H,xanchor:'left',yanchor:'middle',
  showarrow:false,font:{family:serif,size:13,weight:'bold',color:'#222'}});

// Bottom table
const rowY=[720,736,751,766,781];
tableRows.forEach((r,k)=>{
  layout.annotations.push({text:r,xref:'paper',yref:'paper',x:(k===0?35:36)/W,y:1-rowY[k]/H,xanchor:'center',yanchor:'middle',showarrow:false,
    borderpad:0,font:{family:sans,size:k===0?13:12,weight:'bold',color:k===1?LABEL:'#111'}});
});
[doyVals,xMso,yMso,zMso].forEach((vals,r)=>{
  vals.forEach((v,c)=>{
    layout.annotations.push({text:v,xref:'x5',yref:'paper',x:tableTimes[c],y:1-rowY[r+1]/H,xanchor:'center',yanchor:'middle',
      showarrow:false,borderpad:0,font:{family:sans,size:11,weight:'bold',color:r===0?LABEL:'#111'}});
  });
});

Plotly.newPlot('chart',traces,layout,{staticPlot:true,displayModeBar:false});
</script>
</body></html>
